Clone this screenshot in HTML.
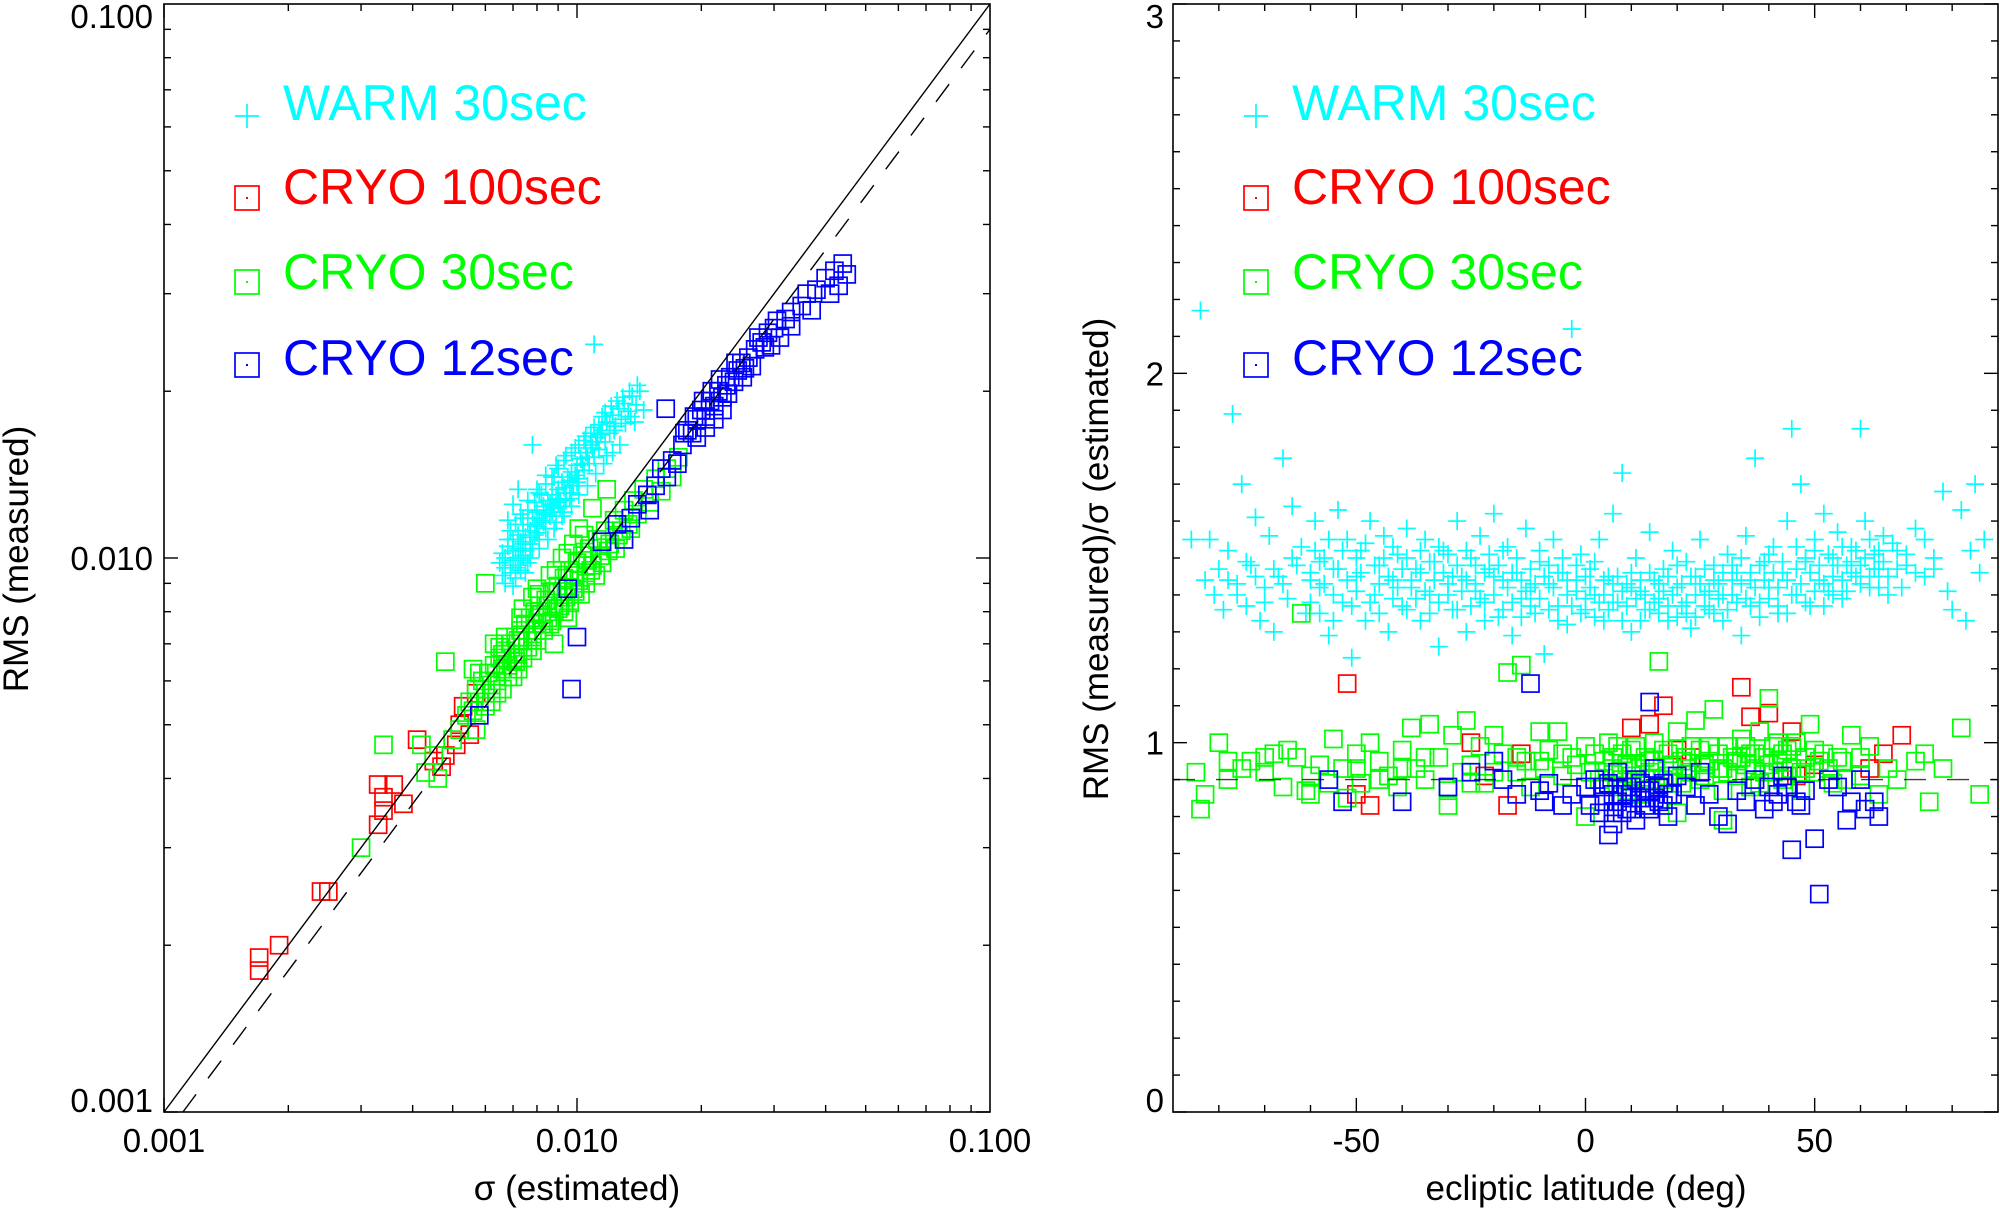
<!DOCTYPE html>
<html><head><meta charset="utf-8"><style>
html,body{margin:0;padding:0;background:#fff;}
svg{display:block;font-family:"Liberation Sans",sans-serif;}
</style></head><body>
<svg id="fig" width="2000" height="1209" viewBox="0 0 2000 1209" xmlns="http://www.w3.org/2000/svg">
<defs>
<clipPath id="clipL"><rect x="164" y="4" width="826" height="1108"/></clipPath>
<clipPath id="clipR"><rect x="1173" y="4" width="825" height="1108"/></clipPath>
</defs>
<g id="left"></g>
<g id="right"></g>
</svg>
<script>
// ---------- LEFT PANEL DATA: [sigma estimated, RMS measured] ----------
const warmLeft=[[0.0065,0.0098],[0.0066,0.0102],[0.0067,0.0100],[0.0068,0.0105],[0.0069,0.0097],[0.0070,0.0103],[0.0070,0.0108],[0.0071,0.0100],[0.0072,0.0110],[0.0072,0.0104],[0.0073,0.0107],[0.0074,0.0112],[0.0074,0.0101],[0.0075,0.0109],[0.0076,0.0115],[0.0077,0.0106],[0.0077,0.0112],[0.0078,0.0118],[0.0079,0.0110],[0.0080,0.0121],[0.0080,0.0114],[0.0081,0.0108],[0.0082,0.0117],[0.0083,0.0124],[0.0083,0.0120],[0.0084,0.0113],[0.0085,0.0127],[0.0086,0.0119],[0.0087,0.0130],[0.0088,0.0123],[0.0089,0.0116],[0.0090,0.0133],[0.0091,0.0127],[0.0092,0.0137],[0.0093,0.0121],[0.0094,0.0131],[0.0095,0.0140],[0.0096,0.0128],[0.0097,0.0143],[0.0098,0.0135],[0.0100,0.0147],[0.0101,0.0139],[0.0102,0.0151],[0.0104,0.0144],[0.0105,0.0155],[0.0107,0.0148],[0.0108,0.0160],[0.0110,0.0152],[0.0112,0.0165],[0.0113,0.0157],[0.0115,0.0170],[0.0117,0.0162],[0.0118,0.0176],[0.0120,0.0168],[0.0122,0.0181],[0.0124,0.0173],[0.0126,0.0186],[0.0128,0.0178],[0.0130,0.0190],[0.0133,0.0184],[0.0136,0.0196],[0.0139,0.0189],[0.0142,0.0200],[0.0078,0.0160],[0.0072,0.0133],[0.0070,0.0125],[0.0068,0.0117],[0.0066,0.0093],[0.0069,0.0112],[0.0110,0.0243],[0.0145,0.0185],[0.0138,0.0176],[0.0125,0.0192],[0.0118,0.0153],[0.0088,0.0140],[0.0082,0.0130],[0.0071,0.0096],[0.0073,0.0099],[0.0075,0.0103],[0.0076,0.0098],[0.0078,0.0104],[0.0079,0.0115],[0.0081,0.0118],[0.0084,0.0122],[0.0086,0.0125],[0.0089,0.0128],[0.0091,0.0124],[0.0093,0.0134],[0.0096,0.0138],[0.0099,0.0141],[0.0103,0.0148],[0.0106,0.0152],[0.0109,0.0158],[0.0111,0.0162],[0.0114,0.0167],[0.0120,0.0175],[0.0070,0.0099],[0.0074,0.0106],[0.0077,0.0109],[0.0080,0.0111],[0.0083,0.0116],[0.0087,0.0121],[0.0090,0.0126],[0.0094,0.0127],[0.0097,0.0131],[0.0100,0.0137],[0.0067,0.0096],[0.0069,0.0094],[0.0072,0.0097],[0.0129,0.0195],[0.0134,0.0200],[0.0140,0.0205],
[0.0074,0.0118],[0.0076,0.0122],[0.0079,0.0126],[0.0081,0.0131],[0.0084,0.0136],[0.0087,0.0140],[0.0090,0.0145],[0.0093,0.0150],[0.0097,0.0155],[0.0101,0.0160],[0.0105,0.0166],[0.0110,0.0172],[0.0115,0.0180],[0.0121,0.0188],[0.0127,0.0160],[0.0122,0.0155],[0.0116,0.0148],[0.0111,0.0142],[0.0106,0.0135],[0.0101,0.0130],[0.0097,0.0124],[0.0092,0.0119],[0.0088,0.0113],[0.0085,0.0108],[0.0081,0.0104],[0.0077,0.0100],[0.0073,0.0095],[0.0071,0.0092],[0.0075,0.0094],[0.0068,0.0108],[0.0071,0.0115],[0.0073,0.0120],[0.0076,0.0127],[0.0080,0.0133],[0.0084,0.0141],[0.0089,0.0147],[0.0094,0.0153],[0.0099,0.0158],[0.0104,0.0163],[0.0108,0.0168],[0.0113,0.0174],[0.0117,0.0183],[0.0123,0.0170],[0.0131,0.0175],[0.0135,0.0180],[0.0070,0.0089],[0.0067,0.0090]];
const redLeft=[[0.0017,0.0019],[0.0017,0.0018],[0.0019,0.0020],[0.0024,0.0025],[0.0025,0.0025],[0.0033,0.0039],[0.0034,0.0037],[0.0034,0.0035],[0.0033,0.0033],[0.0038,0.0036],[0.0036,0.0039],[0.0041,0.0047],[0.0045,0.0043],[0.0047,0.0042],[0.0048,0.0044],[0.0051,0.0046],[0.0053,0.0054],[0.0052,0.0050],[0.0057,0.0057],[0.0055,0.0048]];
const greenLeft=[[0.0030,0.0030],[0.0034,0.0046],[0.0042,0.0046],[0.0048,0.0065],[0.0060,0.0090],[0.0043,0.0041],[0.0045,0.0044],[0.0046,0.0040],[0.0050,0.0047],[0.0052,0.0049],[0.0054,0.0052],[0.0055,0.0055],[0.0056,0.0053],[0.0057,0.0058],[0.0058,0.0055],[0.0059,0.0060],[0.0060,0.0057],[0.0061,0.0062],[0.0062,0.0059],[0.0063,0.0064],[0.0064,0.0060],[0.0065,0.0066],[0.0066,0.0063],[0.0067,0.0068],[0.0068,0.0064],[0.0069,0.0070],[0.0070,0.0066],[0.0071,0.0072],[0.0072,0.0067],[0.0073,0.0074],[0.0074,0.0069],[0.0075,0.0076],[0.0076,0.0071],[0.0077,0.0078],[0.0078,0.0072],[0.0079,0.0080],[0.0080,0.0074],[0.0081,0.0082],[0.0082,0.0076],[0.0084,0.0084],[0.0085,0.0078],[0.0087,0.0087],[0.0088,0.0080],[0.0090,0.0089],[0.0091,0.0082],[0.0093,0.0092],[0.0094,0.0085],[0.0096,0.0095],[0.0098,0.0088],[0.0100,0.0098],[0.0101,0.0091],[0.0103,0.0101],[0.0105,0.0094],[0.0107,0.0104],[0.0109,0.0097],[0.0112,0.0108],[0.0114,0.0101],[0.0117,0.0112],[0.0120,0.0106],[0.0123,0.0117],[0.0126,0.0110],[0.0130,0.0122],[0.0133,0.0115],[0.0137,0.0127],[0.0140,0.0120],[0.0145,0.0133],[0.0150,0.0126],[0.0155,0.0139],[0.0160,0.0132],[0.0165,0.0145],[0.0170,0.0140],[0.0176,0.0152],[0.0067,0.0072],[0.0074,0.0081],[0.0080,0.0088],[0.0086,0.0093],[0.0092,0.0100],[0.0098,0.0106],[0.0104,0.0110],[0.0062,0.0055],[0.0070,0.0061],[0.0078,0.0068],[0.0087,0.0077],[0.0096,0.0083],[0.0105,0.0090],[0.0115,0.0098],[0.0078,0.0085],[0.0082,0.0079],[0.0118,0.0133],[0.0109,0.0123],[0.0101,0.0113],[0.0063,0.0070],[0.0056,0.0063],[0.0057,0.0049],[0.0064,0.0057],[0.0072,0.0063],[0.0088,0.0070],[0.0095,0.0078],[0.0060,0.0054],[0.0066,0.0058],[0.0071,0.0065],[0.0076,0.0069],[0.0083,0.0074],[0.0090,0.0081],[0.0099,0.0087],[0.0108,0.0095],[0.0119,0.0103],[0.0128,0.0112],[0.0058,0.0062],[0.0065,0.0069],[0.0073,0.0078],[0.0081,0.0086],[0.0089,0.0095],[0.0095,0.0102],[0.0068,0.0061],[0.0074,0.0066],[0.0080,0.0071],[0.0086,0.0076],[0.0093,0.0080],[0.0102,0.0086],[0.0111,0.0093],[0.0124,0.0104],[0.0135,0.0113],[0.0066,0.0067],[0.0072,0.0071],[0.0079,0.0076],[0.0085,0.0082],[0.0092,0.0087],[0.0099,0.0093],[0.0106,0.0099]];
const blueLeft=[[0.0097,0.0058],[0.0100,0.0072],[0.0164,0.0186],[0.0095,0.0088],[0.0115,0.0107],[0.0125,0.0115],[0.0135,0.0118],[0.0140,0.0125],[0.0148,0.0130],[0.0155,0.0135],[0.0160,0.0145],[0.0170,0.0150],[0.0180,0.0160],[0.0185,0.0170],[0.0190,0.0168],[0.0195,0.0178],[0.0200,0.0185],[0.0205,0.0180],[0.0210,0.0192],[0.0215,0.0188],[0.0220,0.0200],[0.0225,0.0195],[0.0230,0.0205],[0.0235,0.0212],[0.0240,0.0208],[0.0245,0.0218],[0.0250,0.0225],[0.0255,0.0220],[0.0260,0.0230],[0.0270,0.0238],[0.0280,0.0245],[0.0285,0.0240],[0.0290,0.0255],[0.0300,0.0260],[0.0310,0.0250],[0.0320,0.0270],[0.0330,0.0278],[0.0350,0.0285],[0.0360,0.0300],[0.0380,0.0305],[0.0400,0.0320],[0.0420,0.0330],[0.0440,0.0340],[0.0450,0.0325],[0.0430,0.0310],[0.0410,0.0300],[0.0370,0.0280],[0.0330,0.0262],[0.0215,0.0178],[0.0205,0.0172],[0.0225,0.0185],[0.0195,0.0165],[0.0175,0.0148],[0.0165,0.0140],[0.0150,0.0122],[0.0130,0.0108],[0.0058,0.0052],[0.0212,0.0200],[0.0222,0.0210],[0.0232,0.0198],[0.0242,0.0225],[0.0252,0.0212],[0.0265,0.0222],[0.0275,0.0250],[0.0295,0.0242],[0.0305,0.0268],[0.0202,0.0192],[0.0192,0.0180],[0.0182,0.0168]];
const logTicksLeft=["0.001","0.010","0.100"];

// ---------- RIGHT PANEL DATA: [ecliptic latitude, ratio] ----------
const warmRight=[[-86,1.55],[-84,2.17],[-83,1.44],[-82,1.55],[-81,1.40],[-80,1.47],[-79,1.36],[-78,1.52],[-77,1.89],[-76,1.43],[-75,1.70],[-74,1.37],[-73,1.48],[-72,1.61],[-71,1.33],[-70,1.42],[-69,1.56],[-68,1.30],[-67,1.45],[-66,1.77],[-65,1.39],[-64,1.64],[-63,1.48],[-62,1.53],[-61,1.35],[-60,1.44],[-59,1.60],[-58,1.42],[-57,1.50],[-56,1.29],[-55,1.47],[-54,1.63],[-53,1.38],[-52,1.55],[-51,1.23],[-50,1.45],[-49,1.52],[-48,1.33],[-47,1.60],[-46,1.40],[-45,1.48],[-44,1.56],[-43,1.30],[-42,1.44],[-41,1.51],[-40,1.37],[-39,1.58],[-38,1.42],[-37,1.47],[-36,1.33],[-35,1.55],[-34,1.40],[-33,1.49],[-32,1.26],[-31,1.52],[-30,1.43],[-29,1.36],[-28,1.60],[-27,1.45],[-26,1.30],[-25,1.50],[-24,1.41],[-23,1.56],[-22,1.38],[-21,1.47],[-20,1.62],[-19,1.34],[-18,1.44],[-17,1.53],[-16,1.29],[-15,1.46],[-14,1.39],[-13,1.58],[-12,1.42],[-11,1.35],[-10,1.49],[-9,1.24],[-8,1.43],[-7,1.55],[-6,1.37],[-5,1.46],[-4,1.32],[-3,2.12],[-2,1.44],[-1,1.51],[0,1.36],[1,1.47],[2,1.40],[3,1.55],[4,1.33],[5,1.45],[6,1.62],[7,1.38],[8,1.73],[9,1.43],[10,1.30],[11,1.50],[12,1.41],[13,1.36],[14,1.57],[15,1.44],[16,1.39],[17,1.47],[18,1.33],[19,1.52],[20,1.42],[21,1.37],[22,1.49],[23,1.31],[24,1.45],[25,1.55],[26,1.40],[27,1.36],[28,1.48],[29,1.43],[30,1.33],[31,1.51],[32,1.40],[33,1.46],[34,1.29],[35,1.56],[36,1.44],[37,1.77],[38,1.38],[39,1.49],[40,1.42],[41,1.53],[42,1.35],[43,1.46],[44,1.60],[45,1.85],[46,1.40],[47,1.70],[48,1.49],[49,1.37],[50,1.55],[51,1.44],[52,1.62],[53,1.41],[54,1.50],[55,1.57],[56,1.39],[57,1.48],[58,1.53],[59,1.45],[60,1.85],[61,1.60],[62,1.42],[63,1.51],[64,1.47],[65,1.56],[66,1.40],[68,1.52],[70,1.48],[72,1.58],[74,1.45],[76,1.50],[78,1.68],[80,1.36],[82,1.63],[84,1.52],[86,1.46],[87,1.55],[85,1.70],[83,1.33],[79,1.41]];
const warmRightCore=[[-60,1.46],[-60,1.38],[-59,1.52],[-58,1.35],[-58,1.49],[-57,1.43],[-56,1.55],[-55,1.40],[-55,1.33],[-54,1.47],[-53,1.52],[-52,1.44],[-51,1.37],[-50,1.50],[-50,1.41],[-49,1.46],[-48,1.54],[-47,1.38],[-46,1.48],[-45,1.43],[-45,1.35],[-44,1.50],[-43,1.45],[-42,1.39],[-42,1.53],[-41,1.42],[-40,1.47],[-39,1.36],[-39,1.50],[-38,1.44],[-37,1.39],[-36,1.52],[-36,1.46],[-35,1.41],[-34,1.35],[-34,1.49],[-33,1.44],[-32,1.53],[-32,1.38],[-31,1.46],[-30,1.40],[-30,1.51],[-29,1.45],[-28,1.36],[-28,1.48],[-27,1.41],[-26,1.52],[-26,1.44],[-25,1.37],[-24,1.48],[-24,1.43],[-23,1.39],[-22,1.46],[-22,1.33],[-21,1.51],[-20,1.40],[-20,1.45],[-19,1.48],[-18,1.36],[-18,1.52],[-17,1.42],[-16,1.46],[-16,1.38],[-15,1.50],[-14,1.44],[-14,1.34],[-13,1.41],[-12,1.47],[-12,1.37],[-11,1.43],[-10,1.39],[-10,1.52],[-9,1.45],[-8,1.36],[-8,1.48],[-7,1.42],[-6,1.46],[-6,1.33],[-5,1.50],[-4,1.40],[-4,1.44],[-3,1.37],[-2,1.48],[-2,1.41],[-1,1.35],[0,1.45],[0,1.39],[1,1.42],[2,1.34],[2,1.49],[3,1.38],[4,1.44],[4,1.40],[5,1.36],[6,1.43],[6,1.38],[7,1.45],[8,1.33],[8,1.41],[9,1.37],[10,1.42],[10,1.46],[11,1.39],[12,1.44],[12,1.33],[13,1.40],[14,1.36],[14,1.46],[15,1.38],[16,1.43],[16,1.35],[17,1.41],[18,1.45],[18,1.37],[19,1.40],[20,1.34],[20,1.48],[21,1.43],[22,1.38],[22,1.35],[23,1.45],[24,1.40],[24,1.34],[25,1.43],[26,1.37],[26,1.47],[27,1.41],[28,1.35],[28,1.44],[29,1.39],[30,1.46],[30,1.40],[31,1.36],[32,1.44],[32,1.48],[33,1.38],[34,1.43],[34,1.50],[35,1.39],[36,1.46],[36,1.37],[37,1.42],[38,1.48],[38,1.34],[39,1.44],[40,1.39],[40,1.51],[41,1.46],[42,1.42],[42,1.37],[43,1.49],[44,1.44],[44,1.35],[45,1.40],[46,1.47],[46,1.53],[47,1.43],[48,1.38],[48,1.50],[49,1.46],[50,1.41],[50,1.52],[51,1.48],[52,1.43],[52,1.37],[53,1.51],[54,1.45],[54,1.40],[55,1.48],[56,1.53],[56,1.44],[57,1.41],[58,1.49],[58,1.46],[59,1.52],[60,1.43],[60,1.48],[61,1.50],[62,1.45],[62,1.55],[63,1.47],[64,1.42],[64,1.52],[65,1.49],[66,1.45],[67,1.54],[68,1.47],[69,1.42],[70,1.51],[72,1.46],[74,1.55],[76,1.47],[-64,1.50],[-66,1.43],[-68,1.47],[-70,1.38],[-72,1.45],[-74,1.49],[-76,1.40],[-78,1.44]];
const redRight=[[-52,1.16],[-50,0.86],[-47,0.83],[-25,1.00],[-22,0.91],[-14,0.97],[-17,0.83],[10,1.04],[14,1.05],[17,1.10],[20,0.98],[23,0.96],[34,1.15],[36,1.07],[40,1.08],[45,1.03],[46,0.91],[50,0.94],[65,0.97],[69,1.02],[62,0.93]];
const greenRight=[[-85,0.92],[-84,0.82],[-83,0.86],[-80,1.00],[-78,0.90],[-75,0.93],[-73,0.95],[-70,0.92],[-68,0.97],[-66,0.88],[-65,0.98],[-63,0.96],[-62,1.35],[-61,0.87],[-60,0.91],[-58,0.94],[-56,0.89],[-55,1.01],[-53,0.93],[-52,0.85],[-50,0.97],[-49,0.89],[-47,1.00],[-45,0.95],[-43,0.91],[-41,0.88],[-40,0.98],[-38,1.04],[-37,0.93],[-35,0.90],[-34,1.05],[-32,0.96],[-30,0.87],[-29,1.02],[-27,0.92],[-26,1.06],[-25,0.94],[-23,0.99],[-22,0.89],[-20,1.02],[-18,0.97],[-17,1.19],[-15,0.92],[-14,1.21],[-13,0.95],[-12,0.88],[-10,1.03],[-9,0.93],[-8,0.98],[-6,1.03],[-5,0.91],[-3,0.96],[-2,0.94],[0,0.99],[1,0.92],[2,0.97],[3,0.90],[4,0.95],[5,1.00],[6,0.93],[7,0.88],[8,0.97],[9,0.94],[10,0.91],[11,0.99],[12,0.86],[13,0.96],[14,0.92],[15,1.00],[16,1.22],[17,0.90],[18,0.97],[19,0.94],[20,1.03],[21,0.89],[22,0.96],[23,0.92],[24,1.06],[25,0.98],[26,0.91],[27,0.95],[28,1.09],[29,0.93],[30,0.87],[31,0.99],[32,0.96],[33,0.91],[34,1.01],[35,0.94],[36,0.88],[37,0.97],[38,1.03],[39,0.92],[40,1.12],[41,0.99],[42,0.95],[43,0.90],[44,0.98],[45,0.93],[46,1.00],[47,0.87],[48,0.96],[49,1.05],[50,0.92],[52,0.97],[54,0.89],[56,0.95],[58,1.02],[60,0.91],[62,0.99],[64,0.86],[66,0.93],[68,0.90],[72,0.95],[74,0.97],[78,0.93],[82,1.04],[86,0.86],[5,0.89],[12,0.93],[18,0.91],[25,0.90],[33,0.95],[40,0.94],[47,0.92],[55,0.96],[-20,0.92],[-40,0.93],[-60,0.86],[0,0.80],[20,0.81],[30,0.79],[-30,0.83],[6,0.96],[10,0.98],[14,0.95],[22,0.93],[27,0.99],[36,0.97],[42,1.00],[44,0.91],[50,0.98],[53,0.93],[57,0.90],[-10,0.95],[-5,0.97],[8,0.90],[30,0.93],[38,0.89],[60,0.96],[75,0.84],[4,0.92],[7,0.99],[9,0.87],[11,0.94],[13,0.90],[15,0.95],[17,0.98],[19,0.89],[21,0.95],[23,0.99],[26,0.94],[29,0.97],[31,0.92],[34,0.96],[35,0.99],[37,0.93],[39,0.96],[41,0.92],[43,0.97],[45,0.99],[48,0.93],[51,0.95],[-45,0.90],[-35,0.96],[-25,0.89],[-15,0.96],[-50,0.93],[-70,0.96],[-78,0.95]];
const blueRight=[[-56,0.90],[-53,0.84],[-40,0.84],[-30,0.88],[-25,0.92],[-20,0.95],[-18,0.90],[-15,0.86],[-12,1.16],[-10,0.87],[-8,0.89],[-5,0.83],[-3,0.86],[0,0.88],[2,0.90],[4,0.84],[5,0.75],[6,0.78],[7,0.92],[8,0.86],[9,0.88],[10,0.82],[11,0.90],[12,0.85],[13,0.87],[14,1.11],[15,0.93],[16,0.84],[17,0.89],[18,0.80],[19,0.86],[20,0.91],[22,0.88],[24,0.83],[25,0.92],[27,0.86],[29,0.80],[31,0.78],[33,0.87],[35,0.84],[37,0.90],[39,0.82],[40,0.88],[42,0.86],[43,0.91],[45,0.71],[46,0.84],[48,0.87],[50,0.74],[51,0.59],[53,0.90],[55,0.88],[57,0.79],[58,0.84],[60,0.90],[61,0.82],[-9,0.84],[1,0.83],[3,0.81],[11,0.79],[8,0.81],[6,0.86],[10,0.88],[13,0.83],[15,0.85],[5,0.89],[4,0.88],[7,0.84],[9,0.82],[12,0.89],[14,0.82],[16,0.88],[18,0.86],[6,0.81],[10,0.85],[14,0.87],[17,0.83],[41,0.84],[44,0.88],[47,0.83],[63,0.84],[64,0.80]];
const latTicks=[-50,0,50];
const ratioTicks=[0,1,2,3];
const legendLabels=["WARM 30sec","CRYO 100sec","CRYO 30sec","CRYO 12sec"];
const legendColors=["#00ffff","#ff0000","#00ff00","#0000ff"];

// ---------- axes ----------
const L={x0:164,x1:990,y0:4,y1:1112};
const R={x0:1173,x1:1998,y0:4,y1:1112};
function lx(v){return L.x0+(Math.log10(v)+3)/2*(L.x1-L.x0);}
function ly(v){return L.y1-(Math.log10(v)+3)/2*(L.y1-L.y0);}
function rx(v){return R.x0+(v+90)/180*(R.x1-R.x0);}
function ry(v){return R.y1-v/3*(R.y1-R.y0);}

const NS="http://www.w3.org/2000/svg";
function mk(tag,attrs,parent){const e=document.createElementNS(NS,tag);for(const k in attrs)e.setAttribute(k,attrs[k]);parent.appendChild(e);return e;}
const gl=document.getElementById('left'), gr=document.getElementById('right');

function plus(g,x,y,c,s){return mk('path',{d:`M${x-s} ${y}H${x+s}M${x} ${y-s}V${y+s}`,stroke:c,'stroke-width':1.7,fill:'none'},g);}
function sq(g,x,y,c,s){return mk('rect',{x:x-s,y:y-s,width:2*s,height:2*s,stroke:c,'stroke-width':1.7,fill:'none'},g);}

function drawSeries(g,data,fx,fy,color,kind,name){
  const sg=mk('g',{},g);
  
  
  data.forEach(d=>{
    const el=kind==='plus'?plus(sg,fx(d[0]),fy(d[1]),color,9):sq(sg,fx(d[0]),fy(d[1]),color,8.5);
    
    
  });
}

// ---- left panel ----
const lc=mk('g',{'clip-path':'url(#clipL)'},gl);


drawSeries(lc,warmLeft,lx,ly,'#00ffff','plus','warm-30sec-series');
drawSeries(lc,redLeft,lx,ly,'#ff0000','sq','cryo-100sec-series');
drawSeries(lc,greenLeft,lx,ly,'#00ff00','sq','cryo-30sec-series');
drawSeries(lc,blueLeft,lx,ly,'#0000ff','sq','cryo-12sec-series');
const oneLine=mk('line',{x1:lx(0.001),y1:ly(0.001),x2:lx(0.1),y2:ly(0.1),stroke:'#000','stroke-width':1.4},lc);


const dashL=mk('line',{x1:lx(0.001/0.9),y1:ly(0.001),x2:lx(0.1),y2:ly(0.09),stroke:'#000','stroke-width':1.4,'stroke-dasharray':'22 20'},lc);



const boxL=mk('rect',{x:L.x0,y:L.y0,width:L.x1-L.x0,height:L.y1-L.y0,fill:'none',stroke:'#000','stroke-width':1.6},gl);


for(let e=-3;e<-1;e++){for(let m=1;m<10;m++){const v=m*Math.pow(10,e);const len=m===1?14:7;
  const X=lx(v),Y=ly(v);
  mk('line',{x1:X,y1:L.y1,x2:X,y2:L.y1-len,stroke:'#000','stroke-width':1.4},gl);
  mk('line',{x1:X,y1:L.y0,x2:X,y2:L.y0+len,stroke:'#000','stroke-width':1.4},gl);
  mk('line',{x1:L.x0,y1:Y,x2:L.x0+len,y2:Y,stroke:'#000','stroke-width':1.4},gl);
  mk('line',{x1:L.x1,y1:Y,x2:L.x1-len,y2:Y,stroke:'#000','stroke-width':1.4},gl);
}}
logTicksLeft.forEach((t,i)=>{const v=Math.pow(10,i-3);
  const tx=mk('text',{x:lx(v),y:1152,'font-size':33,'text-anchor':'middle'},gl);tx.textContent=t;
  
  
  const yy=i===0?1112:(i===2?28:ly(v)+12);
  const ty=mk('text',{x:153,y:yy,'font-size':33,'text-anchor':'end'},gl);ty.textContent=t;
  
  
});
const xtl=mk('text',{x:577,y:1200,'font-size':35,'text-anchor':'middle'},gl);xtl.textContent='σ (estimated)';


const ytl=mk('text',{x:0,y:0,'font-size':35,'text-anchor':'middle',transform:'translate(28,559) rotate(-90)'},gl);ytl.textContent='RMS (measured)';



// ---- right panel ----
const rc=mk('g',{'clip-path':'url(#clipR)'},gr);


drawSeries(rc,warmRight,rx,ry,'#00ffff','plus','warm-30sec-series');
drawSeries(rc,warmRightCore,rx,ry,'#00ffff','plus','warm-30sec-core-series');
drawSeries(rc,redRight,rx,ry,'#ff0000','sq','cryo-100sec-series');
drawSeries(rc,greenRight,rx,ry,'#00ff00','sq','cryo-30sec-series');
drawSeries(rc,blueRight,rx,ry,'#0000ff','sq','cryo-12sec-series');
const dashR=mk('line',{x1:R.x0,y1:ry(0.9),x2:R.x1,y2:ry(0.9),stroke:'#000','stroke-width':1.4,'stroke-dasharray':'22 21',opacity:0.75},rc);


const boxR=mk('rect',{x:R.x0,y:R.y0,width:R.x1-R.x0,height:R.y1-R.y0,fill:'none',stroke:'#000','stroke-width':1.6},gr);


for(let d=-80;d<=80;d+=10){const len=d%50===0?14:7;const X=rx(d);
  mk('line',{x1:X,y1:R.y1,x2:X,y2:R.y1-len,stroke:'#000','stroke-width':1.4},gr);
  mk('line',{x1:X,y1:R.y0,x2:X,y2:R.y0+len,stroke:'#000','stroke-width':1.4},gr);}
for(let k=0;k<=30;k++){const v=k/10;const len=k%10===0?14:7;const Y=ry(v);
  mk('line',{x1:R.x0,y1:Y,x2:R.x0+len,y2:Y,stroke:'#000','stroke-width':1.4},gr);
  mk('line',{x1:R.x1,y1:Y,x2:R.x1-len,y2:Y,stroke:'#000','stroke-width':1.4},gr);}
latTicks.forEach(t=>{const tx=mk('text',{x:rx(t),y:1152,'font-size':33,'text-anchor':'middle'},gr);tx.textContent=String(t);
  
  });
ratioTicks.forEach(t=>{const yy=t===0?1112:(t===3?28:ry(t)+12);
  const ty=mk('text',{x:1164,y:yy,'font-size':33,'text-anchor':'end'},gr);ty.textContent=String(t);
  
  });
const xtr=mk('text',{x:1586,y:1200,'font-size':35,'text-anchor':'middle'},gr);xtr.textContent='ecliptic latitude (deg)';


const ytr=mk('text',{x:0,y:0,'font-size':35,'text-anchor':'middle',transform:'translate(1108,559) rotate(-90)'},gr);ytr.textContent='RMS (measured)/σ (estimated)';



// ---- legends ----
const legYs=[116,198,282,365], legBase=[120,204,289,375];
[[gl,247,283],[gr,1256,1292]].forEach(([g,mx,tx0])=>{
  const lg=mk('g',{},g);
  
  
  legendLabels.forEach((lab,i)=>{
    const eg=mk('g',{},lg);
    
    
    if(i===0){plus(eg,mx,legYs[i],legendColors[i],12);}
    else{sq(eg,mx,legYs[i],legendColors[i],12);mk('rect',{x:mx-1,y:legYs[i]-1,width:2,height:2,fill:legendColors[i]},eg);}
    const t=mk('text',{x:tx0,y:legBase[i],'font-size':50,fill:legendColors[i]},eg);t.textContent=lab;
  });
});
</script>
</body></html>
